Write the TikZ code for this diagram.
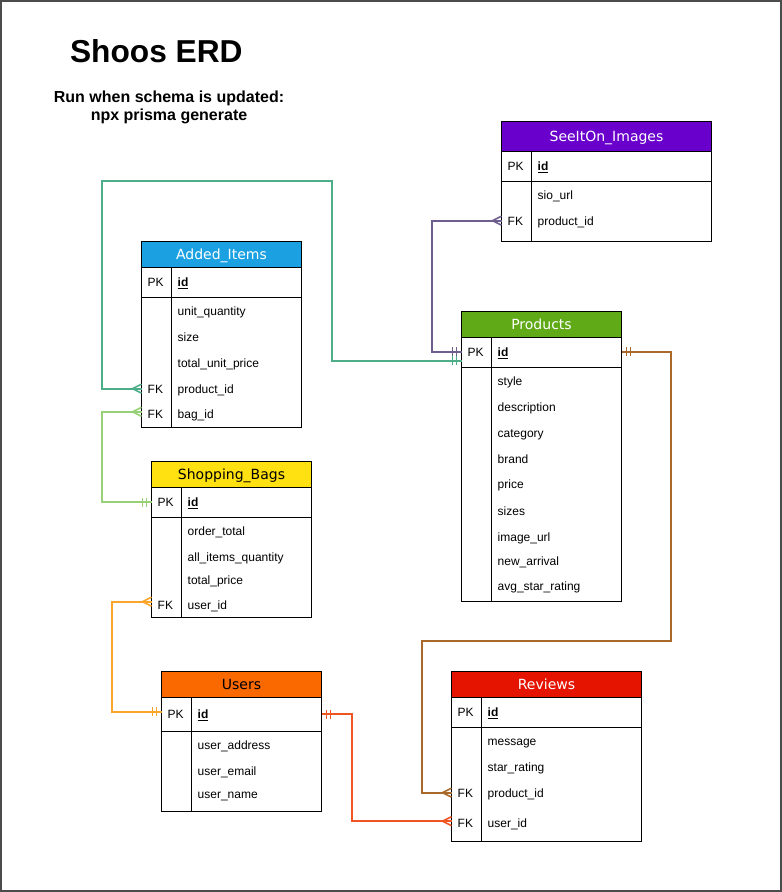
\documentclass[tikz,border=0pt]{standalone}
\usepackage{fontspec}
\setmainfont{Liberation Sans}
\newfontfamily\headfont{DejaVu Sans}
\usepackage{tikz}
\usetikzlibrary{positioning, decorations.markings}

\definecolor{addedblue}{HTML}{1BA1E2}
\definecolor{bagsyellow}{HTML}{FFE010}
\definecolor{usersorange}{HTML}{FA6800}
\definecolor{reviewsred}{HTML}{E51400}
\definecolor{productsgreen}{HTML}{60A917}
\definecolor{seeitonpurple}{HTML}{6A00CC}
\definecolor{tealline}{HTML}{4FAE8A}
\definecolor{greenline}{HTML}{97D077}
\definecolor{purpleline}{HTML}{6E5E8E}
\definecolor{brownline}{HTML}{A8692A}
\definecolor{orangeline}{HTML}{FBA52A}
\definecolor{redline}{HTML}{EE5522}

\tikzstyle{tableframe} = [draw, line width=1pt, rectangle, inner sep=0pt, outer sep=0pt, anchor=north west]
\tikzstyle{tablehead} = [tableframe, font=\headfont\fontsize{14}{16}\selectfont, text height=12pt, text depth=1.5pt]
\tikzstyle{field} = [anchor=west, inner sep=0pt, text height=11pt, text depth=2pt, font=\fontsize{12}{14}\selectfont]
\tikzstyle{relation} = [line width=2pt]
\tikzset{
  one/.style={postaction={decorate, decoration={markings, mark=at position 0 with {\draw[#1, line width=1.5pt] (5pt,-4.5pt) -- (5pt,4.5pt) (9pt,-4.5pt) -- (9pt,4.5pt);}}}},
  many/.style={postaction={decorate, decoration={markings, mark=at position 1 with {\draw[#1, line width=1.5pt] (-9pt,0pt) -- (0pt,4.5pt) (-9pt,0pt) -- (0pt,-4.5pt);}}}}
}
% name, corner, width, height, header height, pk row height, header look, title
\newcommand{\erdtable}[8]{
  \node (#1) [tableframe, minimum width=#3pt, minimum height=#4pt] at #2 {};
  \node (#1head) [tablehead, #7, minimum width=#3pt, minimum height=#5pt] at (#1.north west) {#8};
  \draw [line width=1pt] ([yshift=-#6pt]#1head.south west) -- ([yshift=-#6pt]#1head.south east);
  \draw [line width=1pt] ([xshift=30pt]#1head.south west) -- ([xshift=30pt]#1.south west);
}

\begin{document}
\begin{tikzpicture}[x=1pt, y=-1pt]
  \useasboundingbox (0,0) rectangle (782,892);
  \draw [line width=2pt, black!70] (1,1) rectangle (781,891);

  \node (title) [inner sep=0pt, font=\bfseries\fontsize{31.7}{36}\selectfont] at (156.3,50.8) {Shoos ERD};
  \node (runhint) [inner sep=0pt, anchor=base, text height=12pt, text depth=4pt, font=\bfseries\fontsize{16}{19}\selectfont] at (169,102.3) {Run when schema is updated:};
  \node (command) [inner sep=0pt, below=2pt of runhint, text height=12pt, text depth=4pt, font=\bfseries\fontsize{16}{19}\selectfont] {npx prisma generate};

  % Added_Items
  \erdtable{added}{(141.5,241.5)}{160}{185.5}{25.5}{30}{fill=addedblue, text=white}{Added\_Items}
  \node (addedpk) [field] at (147.5,282.3) {PK};
  \node (addedid) [field] at (177.5,282.3) {\textbf{\underline{id}}};
  \node (addedqty) [field] at (177.5,311) {unit\_quantity};
  \node (addedsize) [field] at (177.5,336.7) {size};
  \node (addedtotal) [field] at (177.5,362.7) {total\_unit\_price};
  \node (addedfk1) [field] at (147.5,388.7) {FK};
  \node (addedprod) [field] at (177.5,388.7) {product\_id};
  \node (addedfk2) [field] at (147.5,414.3) {FK};
  \node (addedbag) [field] at (177.5,414.3) {bag\_id};

  % Shopping_Bags
  \erdtable{bags}{(151.5,461.5)}{160}{156}{26}{30}{fill=bagsyellow, text=black}{Shopping\_Bags}
  \node (bagspk) [field] at (157.5,502) {PK};
  \node (bagsid) [field] at (187.5,502) {\textbf{\underline{id}}};
  \node (bagsorder) [field] at (187.5,531) {order\_total};
  \node (bagsall) [field] at (187.5,556.7) {all\_items\_quantity};
  \node (bagstotal) [field] at (187.5,579.7) {total\_price};
  \node (bagsfk) [field] at (157.5,604.7) {FK};
  \node (bagsuser) [field] at (187.5,604.7) {user\_id};

  % Users
  \erdtable{users}{(161.5,671.5)}{160}{139.5}{26}{34}{fill=usersorange, text=black}{Users}
  \node (userspk) [field] at (167.5,714) {PK};
  \node (usersid) [field] at (197.5,714) {\textbf{\underline{id}}};
  \node (usersaddr) [field] at (197.5,745) {user\_address};
  \node (usersemail) [field] at (197.5,771) {user\_email};
  \node (usersname) [field] at (197.5,794.3) {user\_name};

  % Reviews
  \erdtable{reviews}{(451.5,671.5)}{190}{169.5}{26}{30}{fill=reviewsred, text=white}{Reviews}
  \node (reviewspk) [field] at (457.5,712) {PK};
  \node (reviewsid) [field] at (487.5,712) {\textbf{\underline{id}}};
  \node (reviewsmsg) [field] at (487.5,741) {message};
  \node (reviewsstar) [field] at (487.5,767) {star\_rating};
  \node (reviewsfk1) [field] at (457.5,792.7) {FK};
  \node (reviewsprod) [field] at (487.5,792.7) {product\_id};
  \node (reviewsfk2) [field] at (457.5,822.7) {FK};
  \node (reviewsuser) [field] at (487.5,822.7) {user\_id};

  % Products
  \erdtable{products}{(461.5,311.5)}{160}{290}{25.5}{30}{fill=productsgreen, text=white}{Products}
  \node (productspk) [field] at (467.5,351.7) {PK};
  \node (productsid) [field] at (497.5,351.7) {\textbf{\underline{id}}};
  \node (productsstyle) [field] at (497.5,381) {style};
  \node (productsdesc) [field] at (497.5,406.7) {description};
  \node (productscat) [field] at (497.5,432.7) {category};
  \node (productsbrand) [field] at (497.5,458.7) {brand};
  \node (productsprice) [field] at (497.5,484.3) {price};
  \node (productssizes) [field] at (497.5,510.7) {sizes};
  \node (productsimg) [field] at (497.5,536.7) {image\_url};
  \node (productsnew) [field] at (497.5,560.7) {new\_arrival};
  \node (productsavg) [field] at (497.5,585.7) {avg\_star\_rating};

  % SeeItOn_Images
  \erdtable{seeiton}{(501.5,121.5)}{210}{119.5}{30}{29.5}{fill=seeitonpurple, text=white}{SeeItOn\_Images}
  \node (seeitonpk) [field] at (507.5,166) {PK};
  \node (seeitonid) [field] at (537.5,166) {\textbf{\underline{id}}};
  \node (seeitonurl) [field] at (537.5,195.3) {sio\_url};
  \node (seeitonfk) [field] at (507.5,220.7) {FK};
  \node (seeitonprod) [field] at (537.5,220.7) {product\_id};

  % relations
  \draw [relation, tealline, one=tealline, many=tealline] ([yshift=-9pt]products.west |- productsid) -| (332,181) -- (101.5,181) |- (added.west |- addedprod);
  \draw [relation, greenline, one=greenline, many=greenline] (bags.west |- bagsid) -| ([xshift=-40pt, yshift=2.5pt]added.west |- addedbag) -- ([yshift=2.5pt]added.west |- addedbag);
  \draw [relation, purpleline, one=purpleline, many=purpleline] (products.west |- productsid) -| ([xshift=-70pt]seeiton.west |- seeitonprod) -- (seeiton.west |- seeitonprod);
  \draw [relation, brownline, one=brownline, many=brownline] (products.east |- productsid) -| (671,641) -| ([xshift=-30pt]reviews.west |- reviewsprod) -- (reviews.west |- reviewsprod);
  \draw [relation, orangeline, one=orangeline, many=orangeline] ([yshift=2.5pt]users.west |- usersid) -| ([xshift=-40pt, yshift=3pt]bags.west |- bagsuser) -- ([yshift=3pt]bags.west |- bagsuser);
  \draw [relation, redline, one=redline, many=redline] (users.east |- usersid) -| ([xshift=-100pt, yshift=1.5pt]reviews.west |- reviewsuser) -- ([yshift=1.5pt]reviews.west |- reviewsuser);
\end{tikzpicture}
\end{document}
